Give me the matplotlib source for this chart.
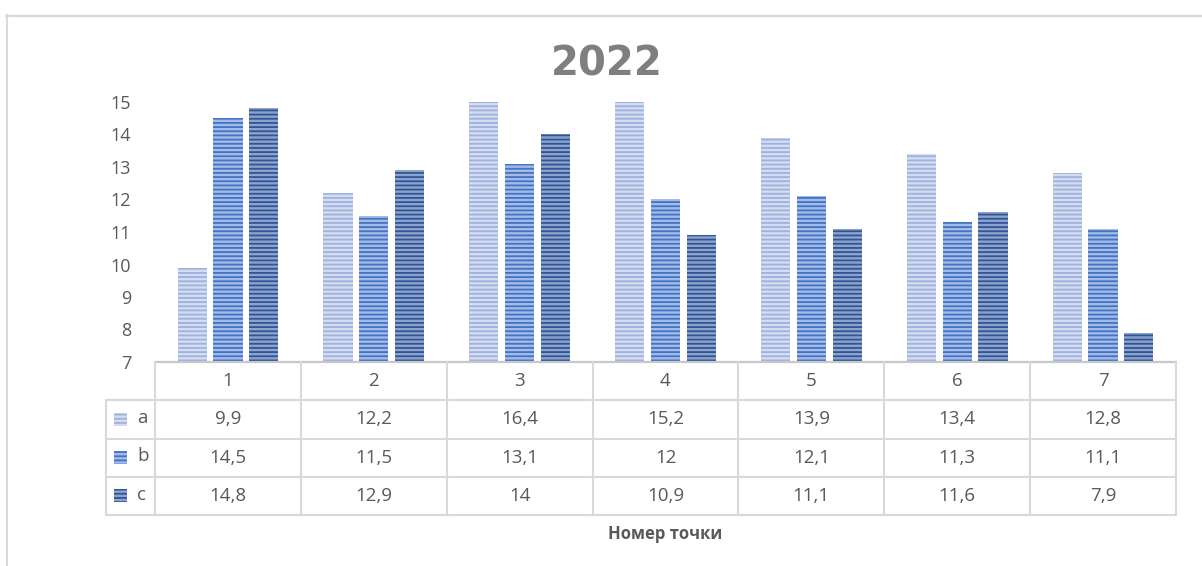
import matplotlib.pyplot as plt
from matplotlib.patches import Rectangle
from matplotlib.lines import Line2D

plt.rcParams['font.family'] = ['Open Sans', 'DejaVu Sans']
plt.rcParams['hatch.linewidth'] = 1.3

points = ['1', '2', '3', '4', '5', '6', '7']
series = ['a', 'b', 'c']
a_vals = [9.9, 12.2, 16.4, 15.2, 13.9, 13.4, 12.8]
b_vals = [14.5, 11.5, 13.1, 12, 12.1, 11.3, 11.1]
c_vals = [14.8, 12.9, 14, 10.9, 11.1, 11.6, 7.9]
y_ticks = [7, 8, 9, 10, 11, 12, 13, 14, 15]

# face / stripe colours per series
faces = ['#d3dcf1', '#a3bbe7', '#8ea3cb']
stripes = ['#9fb1de', '#4472c4', '#2f5597']
txt = '#595959'
grid_c = '#d9d9d9'

W, H = 1202, 566
fig = plt.figure(figsize=(W / 100, H / 100), dpi=100)

def fx(px):
    return px / W

def fy(py):
    return 1 - py / H

# chart area border (left and top edge visible)
fig.add_artist(Line2D([fx(6.5), fx(6.5)], [fy(15), 0], color=grid_c, lw=1.5))
fig.add_artist(Line2D([fx(6), 1], [fy(15.5), fy(15.5)], color=grid_c, lw=1.5))

ax = fig.add_axes([fx(155), fy(362), fx(1176) - fx(155), fy(102) - fy(362)])
x = list(range(len(points)))
width, step = 0.2, 0.245
for k, vals in enumerate([a_vals, b_vals, c_vals]):
    xs = [i + (k - 1) * step for i in x]
    ax.bar(xs, vals, width, color=faces[k], edgecolor=stripes[k],
           hatch='----', linewidth=0)

ax.set_xlim(-0.5, len(points) - 0.5)
ax.set_ylim(7, 15)
ax.set_yticks(y_ticks)
ax.tick_params(axis='y', length=0, pad=17, labelsize=13, labelcolor=txt)
ax.set_xticks([])
for s in ['top', 'right', 'left']:
    ax.spines[s].set_visible(False)
ax.spines['bottom'].set_color('#c8c8c8')
ax.spines['bottom'].set_linewidth(1.6)

# data table under the plot, columns aligned with categories
ppu = (1176 - 155) / len(points)
xl = -0.5 - (155 - 106) / ppu
tab = fig.add_axes([fx(106), fy(515), fx(1176) - fx(106), fy(362) - fy(515)])
tab.set_xlim(xl, len(points) - 0.5)
tab.set_ylim(4, 0)
tab.axis('off')

for r in [1, 2, 3, 4]:
    tab.plot([xl, len(points) - 0.5], [r, r], color=grid_c, lw=1.5, clip_on=False)
for k in range(len(points) + 1):
    tab.plot([k - 0.5, k - 0.5], [0, 4], color=grid_c, lw=1.5, clip_on=False)
tab.plot([xl, xl], [1, 4], color=grid_c, lw=1.5, clip_on=False)

for i, p in enumerate(points):
    tab.text(i, 0.5, p, ha='center', va='center', fontsize=13.5, color=txt)

for k, (name, vals) in enumerate(zip(series, [a_vals, b_vals, c_vals])):
    r = k + 1
    tab.add_patch(Rectangle((xl + 8 / ppu, r + 0.33), 13 / ppu, 0.34,
                            facecolor=faces[k], edgecolor=stripes[k],
                            hatch='----', linewidth=0))
    tab.text(xl + 31 / ppu, r + 0.47, name, ha='left', va='center',
             fontsize=13.5, color=txt)
    for i, v in enumerate(vals):
        tab.text(i, r + 0.5, f'{v:g}'.replace('.', ','), ha='center',
                 va='center', fontsize=13.5, color=txt)

fig.text(fx(607), fy(64), '2022', ha='center', va='center', fontsize=29,
         fontweight='bold', color='#7f7f7f', family=['DejaVu Sans'])
fig.text(fx(665), fy(534), 'Номер точки', ha='center', va='center',
         fontsize=12, fontweight='bold', color=txt)

fig.savefig('out.png', dpi=100, facecolor='white')
